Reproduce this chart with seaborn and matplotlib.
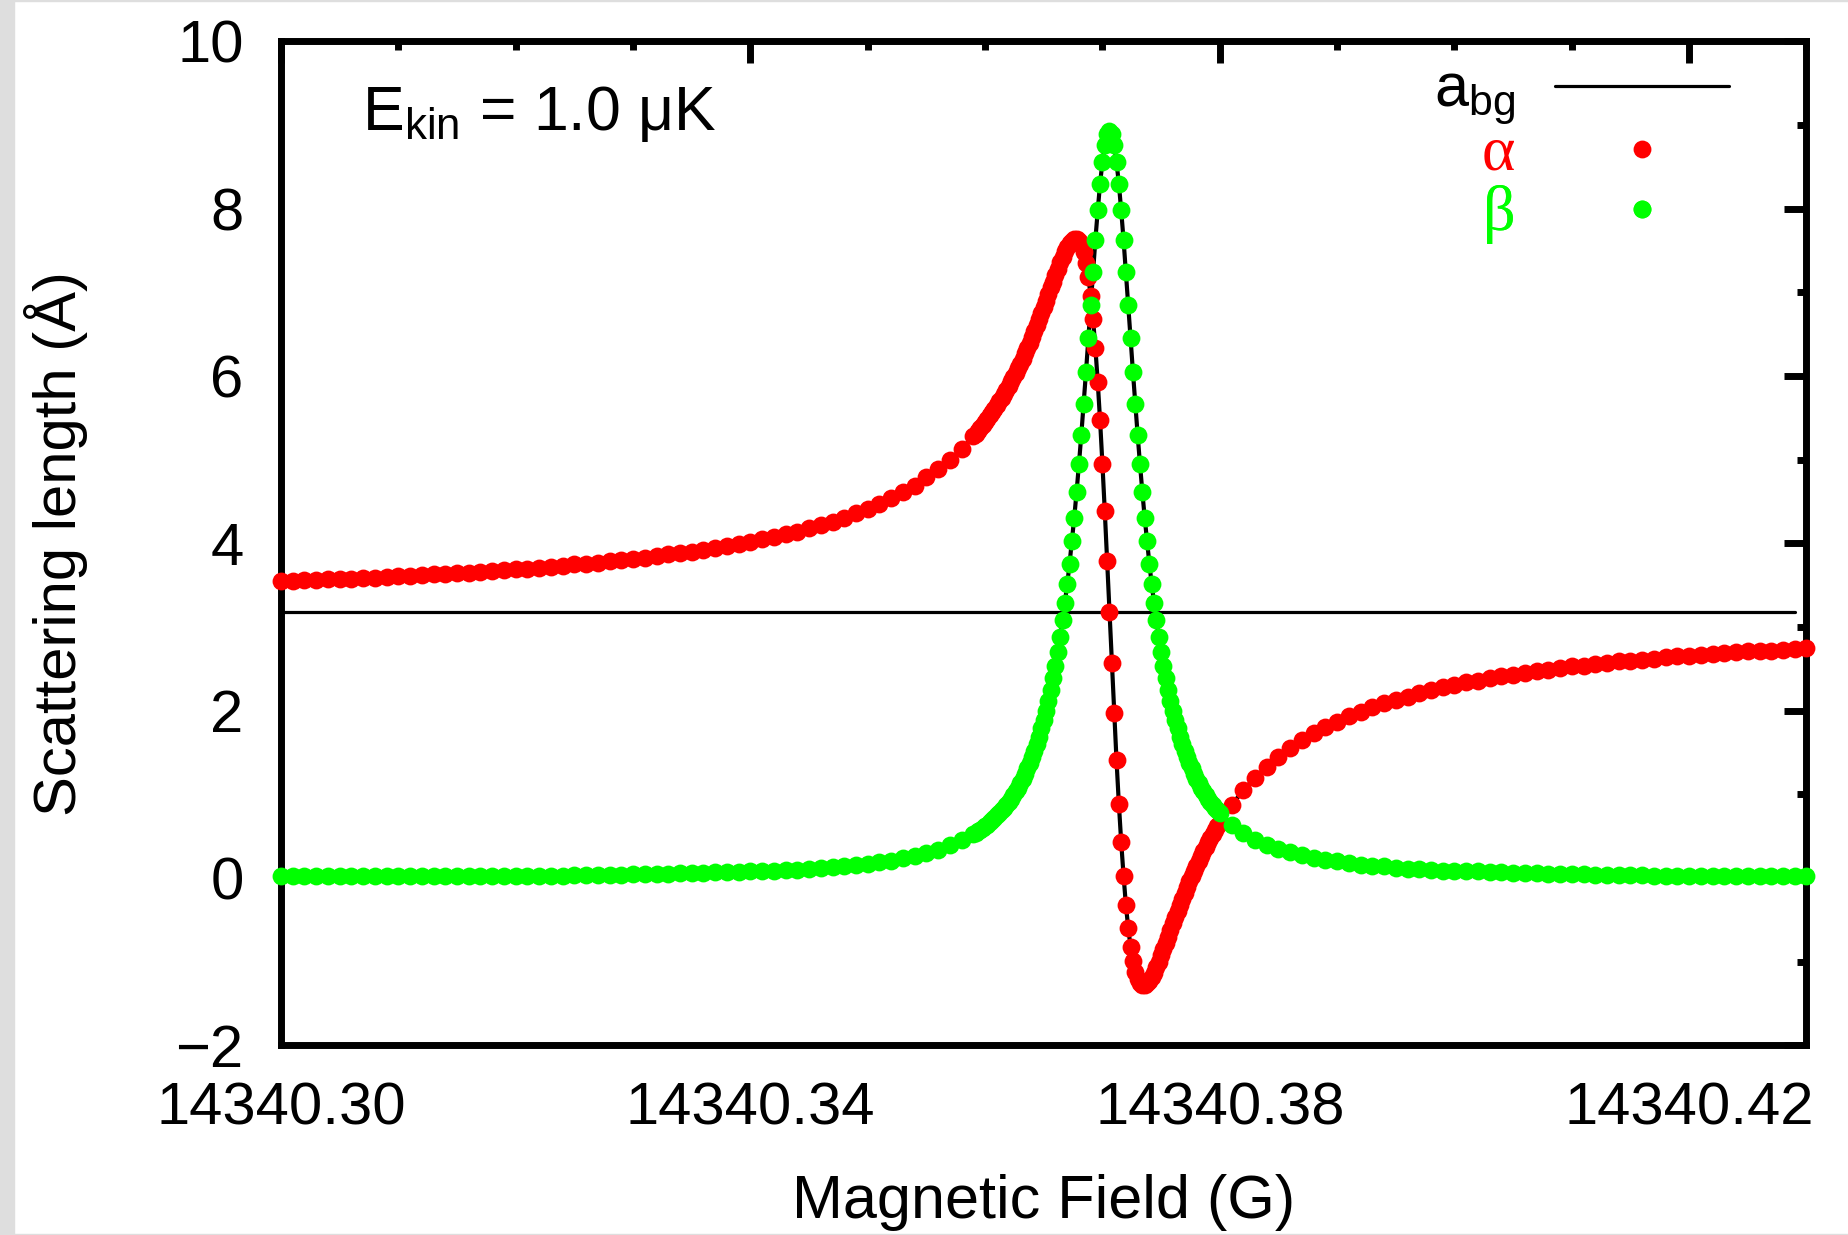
import numpy as np
import pandas as pd
import seaborn as sns
import matplotlib
matplotlib.use("Agg")
import matplotlib.pyplot as plt
from matplotlib.lines import Line2D
from matplotlib.patches import Rectangle
from matplotlib.ticker import MultipleLocator

# Magnetic field grid (G): coarse away from the resonance, fine across it
field_left = np.linspace(14340.300, 14340.359, 60)
field_mid = np.linspace(14340.3592, 14340.3798, 104)
field_right = np.linspace(14340.380, 14340.430, 51)

# Real part alpha of the scattering length (Angstrom)
alpha_left = [3.55, 3.55, 3.56, 3.56, 3.57, 3.57, 3.58, 3.59, 3.59, 3.60,
              3.61, 3.61, 3.62, 3.63, 3.64, 3.65, 3.65, 3.66, 3.67, 3.68,
              3.69, 3.70, 3.71, 3.72, 3.73, 3.75, 3.76, 3.77, 3.79, 3.80,
              3.82, 3.83, 3.85, 3.87, 3.88, 3.90, 3.92, 3.95, 3.97, 3.99,
              4.02, 4.05, 4.08, 4.11, 4.14, 4.18, 4.22, 4.26, 4.31, 4.36,
              4.41, 4.47, 4.54, 4.61, 4.69, 4.79, 4.89, 5.00, 5.13, 5.28]
alpha_mid = [5.31, 5.35, 5.38, 5.42, 5.45, 5.49, 5.53, 5.57, 5.61, 5.65,
             5.70, 5.74, 5.79, 5.84, 5.88, 5.94, 5.99, 6.04, 6.10, 6.15,
             6.21, 6.28, 6.34, 6.40, 6.47, 6.54, 6.61, 6.68, 6.75, 6.83,
             6.90, 6.98, 7.06, 7.13, 7.21, 7.28, 7.36, 7.42, 7.49, 7.54,
             7.59, 7.62, 7.64, 7.64, 7.62, 7.57, 7.48, 7.35, 7.18, 6.96,
             6.68, 6.34, 5.93, 5.47, 4.95, 4.39, 3.79, 3.18, 2.57, 1.97,
             1.41, 0.89, 0.43, 0.03, -0.32, -0.60, -0.82, -0.99, -1.12, -1.21,
             -1.26, -1.28, -1.28, -1.26, -1.23, -1.18, -1.13, -1.06, -1.00, -0.92,
             -0.85, -0.77, -0.70, -0.62, -0.54, -0.47, -0.39, -0.32, -0.25, -0.18,
             -0.11, -0.04, 0.02, 0.09, 0.15, 0.21, 0.26, 0.32, 0.37, 0.43,
             0.48, 0.53, 0.57, 0.62]
alpha_right = [0.66, 0.87, 1.05, 1.20, 1.33, 1.45, 1.56, 1.65, 1.73, 1.81,
               1.87, 1.94, 1.99, 2.04, 2.09, 2.13, 2.17, 2.21, 2.25, 2.28,
               2.31, 2.34, 2.36, 2.39, 2.41, 2.43, 2.45, 2.47, 2.49, 2.51,
               2.53, 2.54, 2.56, 2.57, 2.59, 2.60, 2.61, 2.62, 2.64, 2.65,
               2.66, 2.67, 2.68, 2.69, 2.70, 2.71, 2.71, 2.72, 2.73, 2.74,
               2.75]

# Imaginary part beta of the scattering length (Angstrom)
beta_left = [0.02, 0.02, 0.02, 0.02, 0.02, 0.02, 0.02, 0.02, 0.02, 0.02,
             0.02, 0.02, 0.02, 0.02, 0.02, 0.02, 0.03, 0.03, 0.03, 0.03,
             0.03, 0.03, 0.03, 0.03, 0.03, 0.04, 0.04, 0.04, 0.04, 0.04,
             0.05, 0.05, 0.05, 0.05, 0.06, 0.06, 0.06, 0.07, 0.07, 0.07,
             0.08, 0.08, 0.09, 0.10, 0.10, 0.11, 0.12, 0.13, 0.14, 0.16,
             0.17, 0.19, 0.21, 0.24, 0.26, 0.30, 0.34, 0.39, 0.45, 0.53]
beta_mid = [0.54, 0.56, 0.58, 0.60, 0.62, 0.64, 0.67, 0.69, 0.72, 0.75,
            0.78, 0.81, 0.84, 0.87, 0.91, 0.95, 0.99, 1.04, 1.08, 1.14,
            1.19, 1.25, 1.31, 1.37, 1.45, 1.52, 1.60, 1.69, 1.79, 1.89,
            2.00, 2.12, 2.25, 2.39, 2.54, 2.70, 2.88, 3.08, 3.29, 3.51,
            3.76, 4.03, 4.31, 4.62, 4.95, 5.30, 5.67, 6.05, 6.45, 6.85,
            7.24, 7.63, 7.98, 8.30, 8.56, 8.76, 8.89, 8.93, 8.89, 8.76,
            8.56, 8.30, 7.98, 7.63, 7.24, 6.85, 6.45, 6.05, 5.67, 5.30,
            4.95, 4.62, 4.31, 4.03, 3.76, 3.51, 3.29, 3.08, 2.88, 2.70,
            2.54, 2.39, 2.25, 2.12, 2.00, 1.89, 1.79, 1.69, 1.60, 1.52,
            1.45, 1.37, 1.31, 1.25, 1.19, 1.14, 1.08, 1.04, 0.99, 0.95,
            0.91, 0.87, 0.84, 0.81]
beta_right = [0.78, 0.64, 0.54, 0.46, 0.40, 0.35, 0.31, 0.27, 0.24, 0.22,
              0.20, 0.18, 0.16, 0.15, 0.14, 0.12, 0.11, 0.11, 0.10, 0.09,
              0.09, 0.08, 0.08, 0.07, 0.07, 0.06, 0.06, 0.06, 0.05, 0.05,
              0.05, 0.05, 0.04, 0.04, 0.04, 0.04, 0.04, 0.03, 0.03, 0.03,
              0.03, 0.03, 0.03, 0.03, 0.03, 0.03, 0.02, 0.02, 0.02, 0.02,
              0.02]

# Background scattering length
a_bg = 3.18
a_bg_field = [14340.30, 14340.429]

x_ticks = [14340.30, 14340.34, 14340.38, 14340.42]
y_ticks = [-2, 0, 2, 4, 6, 8, 10]

df = pd.DataFrame({
    "field": np.concatenate([field_left, field_mid, field_right]),
    "alpha": alpha_left + alpha_mid + alpha_right,
    "beta": beta_left + beta_mid + beta_right,
})
df_bg = pd.DataFrame({"field": a_bg_field, "a": [a_bg, a_bg]})

RED = "#ff0000"
GREEN = "#00ff00"
FS = 43
DOT_S = 165          # scatter marker area (pt^2)
DOT_MS = DOT_S ** 0.5

sns.set_theme(style="white")
plt.rcParams["font.family"] = ["Liberation Sans", "DejaVu Sans"]
plt.rcParams["mathtext.fontset"] = "custom"
plt.rcParams["mathtext.rm"] = "Liberation Sans"
plt.rcParams["mathtext.it"] = "Liberation Sans"
plt.rcParams["axes.unicode_minus"] = True

fig = plt.figure(figsize=(18.48, 12.35), dpi=100, facecolor="white")
ax = fig.add_axes([0.15206, 0.15352, 0.82548, 0.81288])
ax.set_facecolor("white")

# thin grey frame strips of the page
for rect in [(0, 0, 14 / 1848, 1), (0, 1 - 1.2 / 1235, 1, 1.2 / 1235),
             (0, 0, 1, 1.5 / 1235)]:
    fig.patches.append(Rectangle(rect[:2], rect[2], rect[3],
                                 transform=fig.transFigure,
                                 color="#dedede", zorder=0))

# smooth curves under the points
sns.lineplot(data=df, x="field", y="alpha", color="black", lw=3,
             estimator=None, sort=False, ax=ax, zorder=2)
sns.lineplot(data=df, x="field", y="beta", color="black", lw=3,
             estimator=None, sort=False, ax=ax, zorder=2)
sns.lineplot(data=df_bg, x="field", y="a", color="black", lw=2.3,
             estimator=None, sort=False, ax=ax, zorder=2)

sns.scatterplot(data=df, x="field", y="alpha", color=RED, s=DOT_S,
                linewidth=0, ax=ax, zorder=3, clip_on=False)
sns.scatterplot(data=df, x="field", y="beta", color=GREEN, s=DOT_S,
                linewidth=0, ax=ax, zorder=4, clip_on=False)

ax.set_xlim(14340.30, 14340.43)
ax.set_ylim(-2, 10)
ax.set_xticks(x_ticks, labels=[f"{v:.2f}" for v in x_ticks])
ax.set_yticks(y_ticks, labels=[f"{v:d}".replace("-", "\u2212") for v in y_ticks])
ax.xaxis.set_minor_locator(MultipleLocator(0.01))
ax.yaxis.set_minor_locator(MultipleLocator(1))
ax.tick_params(which="both", direction="in", top=True, right=True,
               width=5, color="black", labelsize=FS, labelcolor="black")
ax.tick_params(which="major", length=15.8)
ax.tick_params(which="minor", length=6.5)
ax.tick_params(axis="x", which="major", pad=26)
ax.tick_params(axis="y", which="major", pad=27)
for sp in ax.spines.values():
    sp.set_visible(True)
    sp.set_color("black")
    sp.set_linewidth(5)

ax.set_xlabel("Magnetic Field (G)", fontsize=FS + 1, color="black")
ax.set_ylabel("Scattering length (\u00c5)", fontsize=FS, color="black")
ax.xaxis.set_label_coords(0.5, -0.128)
ax.yaxis.set_label_coords(-0.1265, 0.5)

ax.text(0.0531, 0.9118, "$\\mathregular{E_{kin}}$ = 1.0 \u03bcK",
        transform=ax.transAxes, fontsize=FS + 2, ha="left", va="baseline",
        color="black")

# key: one entry per row, text to the left of its symbol
legend_rows = [
    (Line2D([], [], color="black", lw=2.3), r"$\mathregular{a_{bg}}$",
     "black", ["Liberation Sans"], FS + 1, 0.9466),
    (Line2D([], [], color=RED, marker="o", ls="none", markersize=DOT_MS, mew=0),
     "\u03b1", RED, ["Liberation Serif", "DejaVu Serif"], FS + 3, 0.8872),
    (Line2D([], [], color=GREEN, marker="o", ls="none", markersize=DOT_MS, mew=0),
     "\u03b2", GREEN, ["Liberation Serif", "DejaVu Serif"], FS + 3, 0.8280),
]
for handle, label, col, fam, size, ypos in legend_rows:
    leg = ax.legend([handle], [label], loc="center right",
                    bbox_to_anchor=(0.9492, ypos), frameon=False,
                    fontsize=FS, markerfirst=False, handlelength=2.91,
                    handletextpad=0.67, borderpad=0, borderaxespad=0)
    txt = leg.get_texts()[0]
    txt.set_color(col)
    txt.set_fontfamily(fam)
    txt.set_fontsize(size)
    ax.add_artist(leg)

fig.savefig("out.png", dpi=100, facecolor="white")
